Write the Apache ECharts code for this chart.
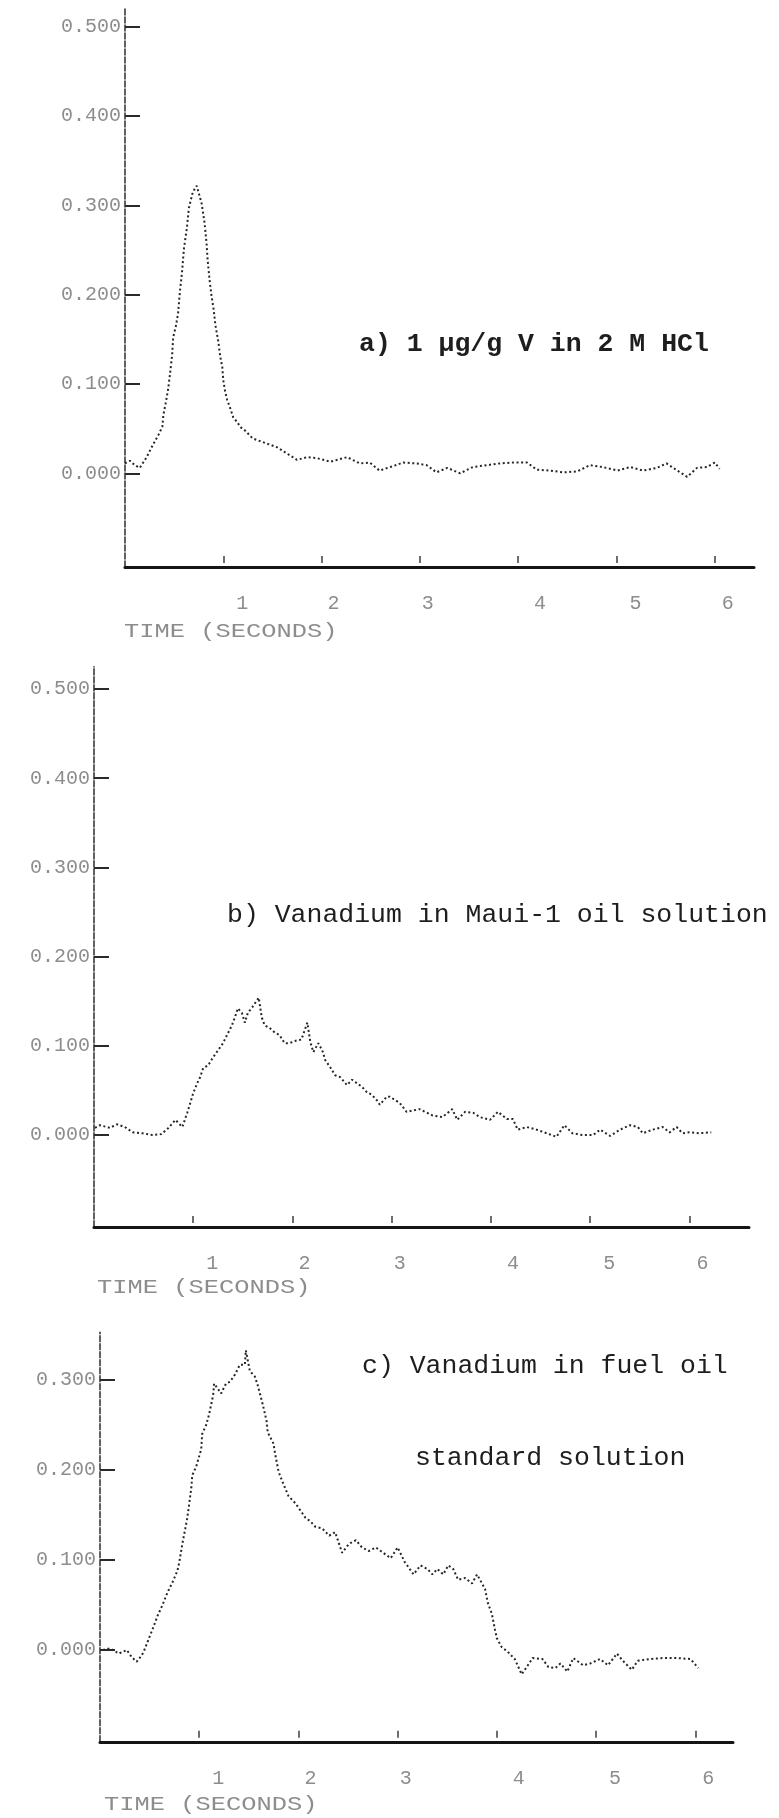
<!DOCTYPE html>
<html>
<head>
<meta charset="utf-8">
<script src="https://cdn.jsdelivr.net/npm/echarts@6/dist/echarts.min.js"></script>
<style>
  html, body { margin: 0; padding: 0; background: #ffffff; }
  #chart { width: 779px; height: 1818px; }
</style>
</head>
<body>
<div id="chart"></div>
<script>
// ---- data -------------------------------------------------------------
const timeTicks = [1, 2, 3, 4, 5, 6];                 // seconds
const absTicksTall = [0, 0.1, 0.2, 0.3, 0.4, 0.5];    // absorbance ticks, panels a and b
const absTicksShort = [0, 0.1, 0.2, 0.3];              // absorbance ticks, panel c
const timeTitle = 'TIME (SECONDS)';
const captionA = ['a) 1 μg/g V in 2 M HCl'];
const captionB = ['b) Vanadium in Maui-1 oil solution'];
const captionC = ['c) Vanadium in fuel oil', 'standard solution'];

// [time (s), absorbance]
const traceA = [
  [0.00,0.011],[0.05,0.014],[0.10,0.009],[0.15,0.006],[0.22,0.018],[0.28,0.031],[0.34,0.043],
  [0.38,0.052],[0.39,0.065],[0.42,0.082],[0.44,0.095],[0.46,0.113],[0.48,0.133],[0.49,0.152],
  [0.52,0.166],[0.54,0.179],[0.56,0.205],[0.58,0.225],[0.60,0.252],[0.63,0.275],[0.65,0.297],
  [0.69,0.315],[0.73,0.322],[0.76,0.310],[0.78,0.302],[0.81,0.280],[0.83,0.257],[0.84,0.240],
  [0.86,0.217],[0.88,0.199],[0.90,0.185],[0.92,0.166],[0.95,0.147],[0.97,0.130],[0.99,0.119],
  [1.00,0.104],[1.02,0.091],[1.04,0.082],[1.07,0.073],[1.10,0.063],[1.15,0.056],[1.17,0.052],
  [1.22,0.048],[1.30,0.039],[1.40,0.035],[1.55,0.029],[1.65,0.022],[1.75,0.015],[1.85,0.018],
  [1.95,0.017],[2.09,0.013],[2.26,0.018],[2.39,0.011],[2.49,0.012],[2.59,0.003],[2.70,0.007],
  [2.83,0.012],[2.97,0.011],[3.07,0.009],[3.17,0.001],[3.28,0.006],[3.41,0.000],[3.54,0.007],
  [3.68,0.009],[3.81,0.011],[3.95,0.012],[4.09,0.012],[4.19,0.004],[4.32,0.003],[4.46,0.001],
  [4.60,0.002],[4.73,0.009],[4.86,0.007],[5.01,0.003],[5.14,0.007],[5.27,0.003],[5.41,0.006],
  [5.51,0.011],[5.62,0.003],[5.72,-0.004],[5.82,0.006],[5.92,0.007],[6.00,0.012],[6.05,0.005]
];

const traceB = [
  [0.01,0.008],[0.06,0.011],[0.16,0.008],[0.23,0.012],[0.31,0.009],[0.39,0.003],[0.49,0.002],
  [0.59,0.000],[0.68,0.001],[0.75,0.008],[0.82,0.017],[0.89,0.009],[0.94,0.025],[0.97,0.036],
  [1.00,0.047],[1.04,0.058],[1.07,0.065],[1.10,0.075],[1.15,0.078],[1.20,0.087],[1.25,0.095],
  [1.30,0.103],[1.34,0.112],[1.39,0.123],[1.42,0.132],[1.45,0.142],[1.49,0.137],[1.52,0.126],
  [1.55,0.137],[1.60,0.144],[1.66,0.154],[1.69,0.132],[1.72,0.123],[1.77,0.120],[1.82,0.115],
  [1.87,0.112],[1.92,0.103],[1.97,0.103],[2.04,0.106],[2.09,0.107],[2.15,0.126],[2.18,0.104],
  [2.21,0.093],[2.26,0.103],[2.30,0.095],[2.33,0.084],[2.38,0.076],[2.43,0.067],[2.48,0.065],
  [2.55,0.056],[2.60,0.062],[2.65,0.058],[2.70,0.054],[2.75,0.048],[2.80,0.045],[2.85,0.039],
  [2.88,0.034],[2.95,0.043],[2.98,0.043],[3.08,0.036],[3.15,0.026],[3.28,0.029],[3.41,0.022],
  [3.51,0.020],[3.61,0.029],[3.66,0.017],[3.74,0.026],[3.82,0.025],[3.89,0.020],[3.99,0.017],
  [4.07,0.026],[4.16,0.018],[4.22,0.018],[4.27,0.006],[4.36,0.009],[4.46,0.006],[4.56,0.002],
  [4.66,-0.002],[4.74,0.011],[4.82,0.002],[4.92,0.000],[5.03,0.000],[5.10,0.006],[5.20,-0.001],
  [5.30,0.006],[5.40,0.011],[5.48,0.009],[5.53,0.002],[5.63,0.006],[5.73,0.009],[5.80,0.003],
  [5.87,0.009],[5.93,0.002],[6.00,0.003],[6.10,0.002],[6.22,0.003]
];

const traceC = [
  [0.03,0.000],[0.10,0.002],[0.19,-0.004],[0.27,0.000],[0.32,-0.008],[0.37,-0.013],[0.42,-0.006],
  [0.44,-0.002],[0.49,0.012],[0.54,0.026],[0.58,0.038],[0.63,0.050],[0.68,0.064],[0.73,0.075],
  [0.78,0.088],[0.80,0.098],[0.83,0.118],[0.86,0.135],[0.88,0.147],[0.90,0.163],[0.92,0.180],
  [0.93,0.194],[0.97,0.204],[1.02,0.223],[1.03,0.240],[1.07,0.250],[1.10,0.262],[1.14,0.283],
  [1.15,0.296],[1.19,0.290],[1.22,0.285],[1.27,0.296],[1.31,0.298],[1.36,0.306],[1.41,0.317],
  [1.46,0.317],[1.47,0.333],[1.51,0.310],[1.56,0.304],[1.59,0.294],[1.64,0.273],[1.68,0.254],
  [1.69,0.242],[1.75,0.229],[1.76,0.221],[1.80,0.198],[1.85,0.184],[1.90,0.171],[1.97,0.163],
  [2.02,0.155],[2.07,0.147],[2.12,0.143],[2.17,0.137],[2.24,0.135],[2.31,0.127],[2.37,0.131],
  [2.44,0.108],[2.51,0.118],[2.58,0.122],[2.64,0.114],[2.71,0.110],[2.78,0.114],[2.88,0.106],
  [2.93,0.102],[3.00,0.114],[3.07,0.098],[3.16,0.084],[3.23,0.094],[3.30,0.090],[3.35,0.084],
  [3.40,0.090],[3.46,0.084],[3.51,0.094],[3.56,0.090],[3.61,0.078],[3.68,0.080],[3.75,0.074],
  [3.80,0.084],[3.85,0.074],[3.88,0.068],[3.91,0.052],[3.95,0.040],[3.98,0.023],[4.00,0.013],
  [4.05,0.003],[4.11,-0.002],[4.18,-0.010],[4.25,-0.027],[4.30,-0.019],[4.36,-0.009],[4.46,-0.010],
  [4.52,-0.019],[4.59,-0.020],[4.64,-0.015],[4.71,-0.024],[4.77,-0.009],[4.87,-0.017],[4.94,-0.015],
  [5.04,-0.010],[5.12,-0.017],[5.21,-0.004],[5.27,-0.012],[5.36,-0.022],[5.42,-0.012],[5.54,-0.010],
  [5.67,-0.009],[5.82,-0.009],[5.95,-0.010],[6.03,-0.020]
];

// ---- layout of the three plotter frames ----------------------------------
const panels = [
  { trace: traceA, yTicks: absTicksTall,  left: 125, top: 9,      width: 629, height: 558,   xMax: 6.4,  yMin: -0.105, yMax: 0.52,
    caption: captionA, capX: 359, capY: [344], capBold: true, timeX: 124, timeY: 632 },
  { trace: traceB, yTicks: absTicksTall,  left: 94,  top: 666.7,  width: 655, height: 560.2, xMax: 6.6,  yMin: -0.103, yMax: 0.525,
    caption: captionB, capX: 227, capY: [915], capBold: false, timeX: 97, timeY: 1288 },
  { trace: traceC, yTicks: absTicksShort, left: 100, top: 1332.3, width: 633, height: 409.5, xMax: 6.38, yMin: -0.102, yMax: 0.353,
    caption: captionC, capX: 362, capY: [1366, 1458], capBold: false, timeX: 104, timeY: 1805 }
];

const MONO = '"Liberation Mono", "DejaVu Sans Mono", monospace';
const INK = '#262626';
const PLOTTER_GREY = '#8d8d8d';

// the plotter set each time digit slightly right of its tick mark
const digitShift = { 1: 19, 2: 12, 3: 8, 4: 22, 5: 19, 6: 13 };
const digitRich = {};
Object.keys(digitShift).forEach(k => {
  digitRich['d' + k] = {
    fontFamily: MONO, fontSize: 20, color: PLOTTER_GREY,
    padding: [0, 0, 0, digitShift[k] * 2]
  };
});

const chart = echarts.init(document.getElementById('chart'), null, { renderer: 'canvas' });

const graphics = [];
panels.forEach(p => {
  p.caption.forEach((line, j) => {
    graphics.push({
      type: 'text',
      x: j === 0 ? p.capX : p.capX + 53,
      y: p.capY[j],
      style: {
        text: line,
        font: (p.capBold ? 'bold ' : '') + '26.5px ' + MONO,
        fill: '#1e1e1e',
        textAlign: 'left',
        textVerticalAlign: 'middle'
      }
    });
  });
  graphics.push({
    type: 'text',
    x: p.timeX, y: p.timeY,
    scaleX: 1.27,
    style: {
      text: timeTitle,
      font: '20px ' + MONO,
      fill: PLOTTER_GREY,
      textAlign: 'left',
      textVerticalAlign: 'middle'
    }
  });
});

const option = {
  backgroundColor: '#ffffff',
  animation: false,
  grid: panels.map(p => ({ left: p.left, top: p.top, width: p.width, height: p.height })),
  xAxis: panels.map((p, i) => ({
    type: 'value',
    gridIndex: i,
    min: 0,
    max: p.xMax,
    splitLine: { show: false },
    axisLine: { show: true, onZero: false, lineStyle: { color: '#151515', width: 3 } },
    axisTick: {
      show: true, inside: true, length: 12, customValues: timeTicks,
      lineStyle: { color: '#4a4a4a', width: 1.6, type: [0, 4, 7, 40] }
    },
    axisLabel: {
      show: true, customValues: timeTicks, margin: 37, verticalAlign: 'middle',
      formatter: v => '{d' + v + '|' + v + '}',
      rich: digitRich
    }
  })),
  yAxis: panels.map((p, i) => ({
    type: 'value',
    gridIndex: i,
    min: p.yMin,
    max: p.yMax,
    splitLine: { show: false },
    axisLine: { show: true, onZero: false, lineStyle: { color: '#3a3a3a', width: 1.6, type: [6, 2] } },
    axisTick: {
      show: true, inside: true, length: 15, customValues: p.yTicks,
      lineStyle: { color: '#2a2a2a', width: 2 }
    },
    axisLabel: {
      show: true, customValues: p.yTicks, margin: 4,
      formatter: v => v.toFixed(3),
      fontFamily: MONO, fontSize: 20, color: PLOTTER_GREY
    }
  })),
  series: panels.map((p, i) => ({
    type: 'line',
    xAxisIndex: i,
    yAxisIndex: i,
    data: p.trace,
    showSymbol: false,
    silent: true,
    lineStyle: { color: INK, width: 2, type: [2, 2.6] }
  })),
  graphic: graphics
};

chart.setOption(option);
</script>
</body>
</html>
